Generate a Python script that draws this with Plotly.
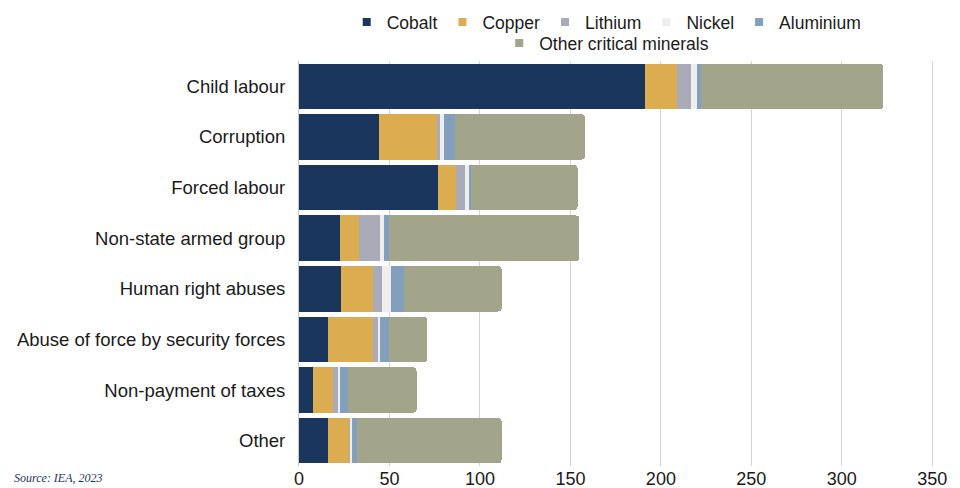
import plotly.graph_objects as go

categories = ["Child labour", "Corruption", "Forced labour", "Non-state armed group",
              "Human right abuses", "Abuse of force by security forces",
              "Non-payment of taxes", "Other"]
cobalt = [191, 44, 77, 22.5, 23, 16, 8, 16]
copper = [18, 32, 10, 10.5, 18, 25, 11, 12]
lithium = [7.5, 2, 5, 12, 5, 2.5, 3, 0.5]
nickel = [3.5, 2, 2, 2, 5, 1.5, 0.5, 1]
aluminium = [2, 6, 1, 3, 7, 5, 4.5, 2.5]
other = [101, 72, 59, 105, 54, 21, 38, 80]
x_ticks = [0, 50, 100, 150, 200, 250, 300, 350]

series = [
    ("Cobalt", cobalt, "#1b365d", "legend"),
    ("Copper", copper, "#dcac50", "legend"),
    ("Lithium", lithium, "#a9abb9", "legend"),
    ("Nickel", nickel, "#eeeeef", "legend"),
    ("Aluminium", aluminium, "#82a0bd", "legend"),
    ("Other critical minerals", other, "#a3a58a", "legend2"),
]

fig = go.Figure()
for name, vals, color, lg in series:
    fig.add_trace(go.Bar(
        y=categories, x=vals, name=name, orientation="h",
        marker=dict(color=color, line=dict(width=0)),
        legendgroup=name, showlegend=False,
    ))
# legend entries with small square markers
for name, vals, color, lg in series:
    fig.add_trace(go.Scatter(
        x=[None], y=[None], mode="markers", name=name,
        marker=dict(symbol="square", size=8, color=color),
        legendgroup=name, showlegend=True, legend=lg,
    ))

font_family = "Liberation Sans, Arial, sans-serif"
fig.update_layout(
    barmode="stack",
    bargap=0.1,
    barcornerradius=4,
    width=960, height=488,
    margin=dict(l=299, r=25, t=61, b=22, autoexpand=False),
    plot_bgcolor="white", paper_bgcolor="white",
    font=dict(family=font_family, size=18, color="#1a1a1a"),
    showlegend=True,
    legend=dict(orientation="h", xref="container", yref="container",
                x=0.632, xanchor="center", y=1 - 22 / 488, yanchor="middle",
                font=dict(size=17.5), itemwidth=30, traceorder="normal",
                tracegroupgap=0, bgcolor="rgba(0,0,0,0)"),
    legend2=dict(orientation="h", xref="container", yref="container",
                 x=0.632, xanchor="center", y=1 - 43 / 488, yanchor="middle",
                 font=dict(size=17.5), itemwidth=30, bgcolor="rgba(0,0,0,0)"),
    xaxis=dict(range=[0, 351.5], tickvals=x_ticks, showgrid=True, gridcolor="#d4d4d4",
               gridwidth=1, zeroline=False, showline=False, ticks="",
               tickfont=dict(size=18, color="#1a1a1a"), automargin=False,
               fixedrange=True),
    yaxis=dict(categoryorder="array", categoryarray=categories, autorange="reversed",
               showline=True, linecolor="#c8c8c8", linewidth=1, ticks="",
               ticklabelstandoff=9, tickfont=dict(size=18.5, color="#1a1a1a"),
               automargin=False, fixedrange=True),
    annotations=[dict(text="<i>Source: IEA, 2023</i>", xref="paper", yref="paper",
                      x=(12 - 299) / 636, y=(466.6 - 479) / 405.6,
                      xanchor="left", yanchor="middle", showarrow=False,
                      font=dict(family="Liberation Serif, serif", size=12,
                                color="#1b365d"))],
)
fig.write_html("out.html", config={"displayModeBar": False},
               post_script="document.body.style.margin='0';document.body.style.padding='0';")
